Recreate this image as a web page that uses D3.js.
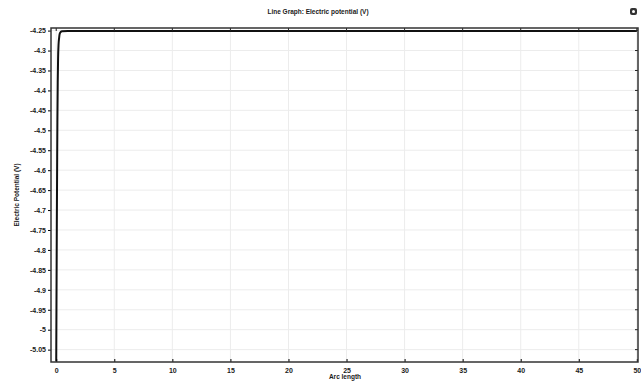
<!DOCTYPE html>
<html>
<head>
<meta charset="utf-8">
<script src="https://cdn.jsdelivr.net/npm/d3@7"></script>
<style>
  body { margin: 0; background: #fff; }
  svg text { font-family: "Liberation Sans", Arial, sans-serif; font-weight: bold; fill: #1a1a1a; }
</style>
</head>
<body>
<div class="chart"></div>
<script>
// values
const arcLength = [0, 0.02, 0.05, 0.08, 0.1, 0.13, 0.16, 0.2, 0.25, 0.3, 0.4, 0.5, 1, 5, 10, 20, 30, 40, 50];
const potential = [-5.08, -4.95, -4.75, -4.58, -4.48, -4.38, -4.32, -4.285, -4.268, -4.258, -4.253, -4.2515, -4.251, -4.251, -4.251, -4.251, -4.251, -4.251, -4.251];
const xTicks = [0, 5, 10, 15, 20, 25, 30, 35, 40, 45, 50];
const yTicks = [-4.25, -4.3, -4.35, -4.4, -4.45, -4.5, -4.55, -4.6, -4.65, -4.7, -4.75, -4.8, -4.85, -4.9, -4.95, -5, -5.05];

function setupSvg() {
  const width = 641, height = 383;
  const margin = { top: 28, right: 3, bottom: 21, left: 51 };
  const svg = d3.select(".chart")
    .append("svg")
    .attr("width", width)
    .attr("height", height);
  return { svg, margin, width, height };
}

function setupScales(margin, width, height) {
  const x = d3.scaleLinear()
    .domain([-0.45, 50.1])
    .range([margin.left, width - margin.right]);
  const y = d3.scaleLinear()
    .domain([-5.081, -4.2435])
    .range([height - margin.bottom, margin.top]);
  return { x, y };
}

function drawGrid(svg, x, y) {
  const [x0, x1] = x.range();
  const [y0, y1] = y.range();
  svg.append("g").selectAll("line")
    .data(xTicks)
    .join("line")
    .attr("x1", d => x(d)).attr("x2", d => x(d))
    .attr("y1", y0).attr("y2", y1)
    .attr("stroke", "#ececec").attr("stroke-width", 1);
  svg.append("g").selectAll("line")
    .data(yTicks)
    .join("line")
    .attr("x1", x0).attr("x2", x1)
    .attr("y1", d => y(d)).attr("y2", d => y(d))
    .attr("stroke", "#ececec").attr("stroke-width", 1);
}

function drawAxes(svg, x, y, width, height, margin) {
  const [x0, x1] = x.range();
  const [y0, y1] = y.range();

  const bottom = svg.append("g")
    .attr("transform", `translate(0,${y0})`)
    .call(d3.axisBottom(x).tickValues(xTicks).tickFormat(d3.format("d")).tickSize(-3).tickPadding(6));
  bottom.select(".domain").remove();
  bottom.selectAll("text").style("font-size", "7px");

  const left = svg.append("g")
    .attr("transform", `translate(${x0},0)`)
    .call(d3.axisLeft(y).tickValues(yTicks).tickFormat(d => String(d)).tickSize(3).tickPadding(2));
  left.select(".domain").remove();
  left.selectAll("text").style("font-size", "7px");

  // tick marks on top and right edges
  svg.append("g").selectAll("line")
    .data(xTicks)
    .join("line")
    .attr("x1", d => x(d)).attr("x2", d => x(d))
    .attr("y1", y1).attr("y2", y1 + 3)
    .attr("stroke", "#222");
  svg.append("g").selectAll("line")
    .data(yTicks)
    .join("line")
    .attr("x1", x1 - 3).attr("x2", x1)
    .attr("y1", d => y(d)).attr("y2", d => y(d))
    .attr("stroke", "#222");

  svg.append("rect")
    .attr("x", x0).attr("y", y1)
    .attr("width", x1 - x0).attr("height", y0 - y1)
    .attr("fill", "none")
    .attr("stroke", "#333")
    .attr("stroke-width", 1.5);

  svg.append("text")
    .attr("x", 318).attr("y", 14)
    .attr("text-anchor", "middle")
    .style("font-size", "6.5px")
    .text("Line Graph: Electric potential (V)");

  svg.append("text")
    .attr("x", 345).attr("y", 379)
    .attr("text-anchor", "middle")
    .style("font-size", "6.5px")
    .text("Arc length");

  svg.append("text")
    .attr("transform", "translate(19,195) rotate(-90)")
    .attr("text-anchor", "middle")
    .style("font-size", "6.5px")
    .text("Electric Potential (V)");

  // small icon at top right
  svg.append("rect")
    .attr("x", 630).attr("y", 8).attr("width", 7).attr("height", 7).attr("rx", 2)
    .attr("fill", "#333");
  svg.append("circle")
    .attr("cx", 633.5).attr("cy", 11.5).attr("r", 1.5)
    .attr("fill", "#fff");
}

function drawLine(svg, x, y) {
  const data = arcLength.map((a, i) => ({ a, v: potential[i] }));
  svg.append("path")
    .datum(data)
    .attr("fill", "none")
    .attr("stroke", "#111")
    .attr("stroke-width", 2)
    .attr("d", d3.line()
      .x(d => x(d.a))
      .y(d => y(d.v))
      .curve(d3.curveMonotoneX));
}

function createLineChart() {
  const { svg, margin, width, height } = setupSvg();
  const { x, y } = setupScales(margin, width, height);
  drawGrid(svg, x, y);
  drawLine(svg, x, y);
  drawAxes(svg, x, y, width, height, margin);
}

createLineChart();
</script>
</body>
</html>
